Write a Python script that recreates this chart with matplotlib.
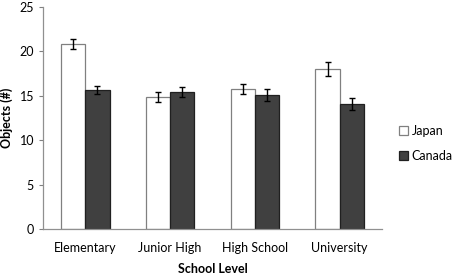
import matplotlib
matplotlib.use("Agg")
import matplotlib.pyplot as plt
import numpy as np

categories = ["Elementary", "Junior High", "High School", "University"]
japan = [20.8, 14.85, 15.75, 18.0]
japan_err = [0.55, 0.55, 0.6, 0.8]
canada = [15.65, 15.4, 15.1, 14.05]
canada_err = [0.45, 0.55, 0.7, 0.7]
yticks = [0, 5, 10, 15, 20, 25]

plt.rcParams['font.family'] = ['Lato', 'DejaVu Sans']

fig = plt.figure(figsize=(4.54, 2.75), dpi=100)
ax = fig.add_axes([43/454, 1-229/275, (382-43)/454, (229-7)/275])

x = np.arange(len(categories))
w = 0.285
ax.bar(x - w/2, japan, w, color="white", edgecolor="#808080", linewidth=0.9, label="Japan",
       yerr=japan_err, error_kw=dict(ecolor="black", elinewidth=1.0, capsize=2.5, capthick=1.0))
ax.bar(x + w/2, canada, w, color="#404040", edgecolor="#202020", linewidth=0.9, label="Canada",
       yerr=canada_err, error_kw=dict(ecolor="black", elinewidth=1.0, capsize=2.5, capthick=1.0))

ax.set_xlim(-0.5, len(categories) - 0.5)
ax.set_ylim(0, 25)
ax.set_yticks(yticks)
ax.set_xticks(x)
ax.set_xticklabels(categories, fontsize=9)
ax.tick_params(axis='y', labelsize=9, length=3, color="#808080", direction='out')
ax.tick_params(axis='x', length=0, pad=9)
for s in ["top", "right"]:
    ax.spines[s].set_visible(False)
for s in ["left", "bottom"]:
    ax.spines[s].set_color("#909090")
    ax.spines[s].set_linewidth(0.9)

ax.set_xlabel("School Level", fontsize=9, fontweight="bold", labelpad=7)
ax.set_ylabel("Objects (#)", fontsize=9, fontweight="bold", labelpad=5)

ax.legend(loc="upper left", bbox_to_anchor=(1.05, 0.47), frameon=False, fontsize=9,
          handlelength=0.7, handleheight=0.7, handletextpad=0.3, labelspacing=1.05,
          borderaxespad=0, borderpad=0)

fig.savefig("out.png", dpi=100)
